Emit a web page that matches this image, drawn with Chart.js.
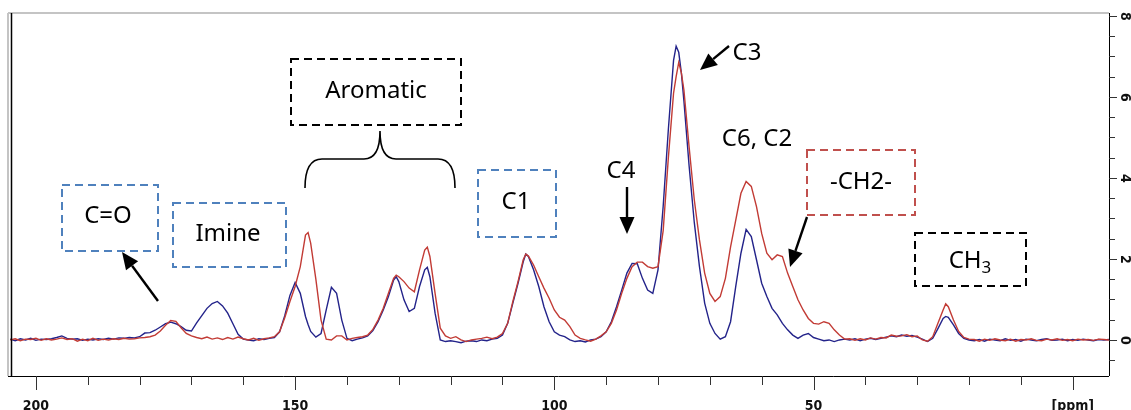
<!DOCTYPE html>
<html><head><meta charset="utf-8">
<script src="https://cdn.jsdelivr.net/npm/chart.js@4.4.1/dist/chart.umd.min.js"></script>
<style>html,body{margin:0;padding:0;background:#fff;overflow:hidden}canvas{display:block}</style>
</head><body>
<canvas id="c" width="1131" height="410"></canvas>
<script>
// chemical shift axis (ppm)
const ppm = [
205,204,203,202,201,200,199,198,197,196,195,194,193,192,191,190,189,188,187,186,185,184,183,182,181,180,
179,178,177,176,175,174,173,172,171,170,
169,168,167,166,165,164,163,162,161,160,
159,158,157,156,155,154,153,152,
151,150,149,148,147.5,147,146,145,144,143,142,141,140,
139,138,137,136,135,134,133,132,131,130.5,130,129,128,127,126,125,124.5,124,123,122,121,120,119,118,117,116,
115,114,113,112,111,110,109,108,107,106,105.5,105,104,103,102,101,100,99,98,97,96,95,94,93,92,91,
90,89,88,87,86,85,84,83,82,81,80,79,78,
77,76.5,76,75.5,75,74,73,72,71,70,69,68,
67,66,65,64,63,62,61,60,59,58,57,56,55,54,53,52,51,50,49,48,47,46,45,44,
43,42,41,40,39,38,37,36,35,34,33,32,31,30,29,28,27,26,25,24.5,24,23,22,21,20,
19,18,17,16,15,14,13,12,11,10,9,8,7,6,5,4,3,2,1,0,-1,-2,-3,-4,-5,-6,-7
];
// blue spectrum
const spectrumBlue = [
0.02,-0.02,0.03,0.00,0.04,-0.01,0.02,0.01,0.03,0.06,0.10,0.04,0.02,0.03,-0.01,0.02,0.00,0.03,0.01,0.04,0.02,0.05,0.04,0.06,0.05,0.08,
0.17,0.18,0.24,0.32,0.40,0.44,0.40,0.33,0.24,0.22,
0.42,0.60,0.78,0.90,0.95,0.84,0.66,0.40,0.14,0.02,
0.00,-0.02,0.03,0.01,0.04,0.06,0.20,0.60,
1.10,1.42,1.15,0.58,0.38,0.21,0.07,0.16,0.74,1.30,1.15,0.49,0.04,
-0.02,0.02,0.05,0.10,0.23,0.45,0.74,1.07,1.48,1.56,1.44,0.99,0.70,0.78,1.32,1.73,1.79,1.56,0.66,0.00,-0.04,-0.02,-0.04,-0.07,-0.03,-0.02,
-0.04,0.00,-0.02,0.02,0.04,0.12,0.41,0.91,1.40,1.93,2.12,2.06,1.73,1.32,0.82,0.45,0.20,0.12,0.08,0.00,-0.04,-0.02,-0.05,0.00,0.02,0.08,
0.20,0.45,0.82,1.23,1.65,1.89,1.88,1.52,1.23,1.15,1.73,3.30,5.20,
6.90,7.25,7.10,6.60,5.90,4.30,2.90,1.81,0.91,0.41,0.16,0.02,
0.08,0.45,1.32,2.14,2.73,2.55,1.98,1.40,1.07,0.78,0.62,0.41,0.25,0.12,0.04,0.12,0.16,0.06,0.02,-0.02,0.00,-0.04,0.00,0.02,
0.00,0.03,-0.02,0.02,0.04,0.01,0.04,0.07,0.10,0.08,0.12,0.09,0.11,0.07,0.02,-0.04,0.04,0.28,0.53,0.58,0.56,0.37,0.16,0.04,0.00,
-0.02,0.01,-0.03,0.02,0.00,-0.02,0.03,-0.01,0.01,-0.03,0.02,0.00,-0.02,0.01,0.03,-0.01,0.00,0.02,-0.02,0.01,-0.01,0.02,0.00,-0.02,0.01,0.00,0.01
];
// red spectrum
const spectrumRed = [
0.00,0.03,-0.02,0.02,0.01,0.04,-0.01,0.03,0.00,0.02,0.05,0.01,0.03,-0.03,0.02,-0.02,0.04,-0.01,0.02,0.00,0.03,0.01,0.04,0.02,0.03,0.05,
0.06,0.08,0.12,0.22,0.36,0.48,0.46,0.30,0.16,0.10,
0.06,0.03,0.07,0.02,0.05,0.01,0.06,0.02,0.07,0.03,
0.00,0.04,-0.01,0.03,0.05,0.08,0.20,0.55,
0.95,1.32,1.81,2.59,2.65,2.39,1.50,0.49,0.02,0.00,0.10,0.10,0.00,
0.04,0.06,0.08,0.12,0.26,0.49,0.78,1.15,1.52,1.60,1.56,1.44,1.28,1.19,1.73,2.22,2.29,2.06,1.15,0.29,0.10,0.04,0.08,0.00,-0.04,0.00,
0.02,0.04,0.07,0.03,0.07,0.16,0.41,0.95,1.44,1.98,2.12,2.07,1.85,1.56,1.28,1.03,0.74,0.56,0.49,0.33,0.12,0.04,0.00,-0.03,0.02,0.10,
0.20,0.41,0.74,1.15,1.52,1.81,1.92,1.92,1.81,1.77,1.81,2.70,4.50,
6.09,6.50,6.85,6.60,6.17,4.77,3.46,2.47,1.65,1.15,0.95,1.07,
1.52,2.30,2.96,3.62,3.91,3.79,3.29,2.63,2.14,1.98,2.10,2.06,1.65,1.32,0.99,0.74,0.53,0.41,0.39,0.45,0.41,0.25,0.12,0.02,
0.03,-0.01,0.03,0.00,0.05,0.02,0.06,0.05,0.12,0.09,0.10,0.13,0.08,0.10,0.00,-0.03,0.08,0.41,0.74,0.89,0.82,0.49,0.21,0.06,0.02,
0.01,-0.03,0.02,-0.01,0.03,0.00,-0.02,0.02,-0.03,0.01,0.00,0.03,-0.01,-0.02,0.02,0.00,0.03,-0.01,0.01,-0.02,0.02,0.00,0.01,-0.01,0.02,0.01,0.00
];
// axis ticks
const xTickValues = [200,190,180,170,160,150,140,130,120,110,100,90,80,70,60,50,40,30,20,10,0];
const xTickLabels = {200:'200',150:'150',100:'100',50:'50',0:'[ppm]'};
const yTickValues = [-0.5,0,0.5,1,1.5,2,2.5,3,3.5,4,4.5,5,5.5,6,6.5,7,7.5,8];
const yTickLabels = {0:'0',2:'2',4:'4',6:'6',8:'8'};

if (spectrumBlue.length !== ppm.length || spectrumRed.length !== ppm.length) console.warn('length mismatch', ppm.length, spectrumBlue.length, spectrumRed.length);

const AXIS_FAMILY = '"Liberation Sans Narrow", "DejaVu Sans Condensed", "Liberation Sans", sans-serif';
const AXIS_FONT = 'bold 14px ' + AXIS_FAMILY;
const ANN_FONT = '24px "Noto Sans", "Open Sans", sans-serif';
const SUB_FONT = '17px "Noto Sans", "Open Sans", sans-serif';

function dashedBox(ctx, x1, y1, x2, y2, color) {
  ctx.save(); ctx.strokeStyle = color; ctx.lineWidth = 2; ctx.setLineDash([8, 5]);
  ctx.strokeRect(x1, y1, x2 - x1, y2 - y1); ctx.restore();
}
function arrow(ctx, x1, y1, x2, y2) {
  const a = Math.atan2(y2 - y1, x2 - x1), L = 17, W = 7.5;
  const bx = x2 - L * Math.cos(a), by = y2 - L * Math.sin(a);
  ctx.save(); ctx.strokeStyle = '#000'; ctx.fillStyle = '#000'; ctx.lineWidth = 2.4;
  ctx.beginPath(); ctx.moveTo(x1, y1); ctx.lineTo(bx, by); ctx.stroke();
  ctx.beginPath(); ctx.moveTo(x2, y2);
  ctx.lineTo(bx + W * Math.sin(a), by - W * Math.cos(a));
  ctx.lineTo(bx - W * Math.sin(a), by + W * Math.cos(a));
  ctx.closePath(); ctx.fill(); ctx.restore();
}
function label(ctx, text, x, y) {
  ctx.save(); ctx.font = ANN_FONT; ctx.fillStyle = '#000'; ctx.textAlign = 'center'; ctx.textBaseline = 'middle';
  ctx.fillText(text, x, y); ctx.restore();
}

const decor = {
  id: 'decor',
  afterDraw(chart) {
    const ctx = chart.ctx, a = chart.chartArea, xs = chart.scales.x, ys = chart.scales.y;
    ctx.save();
    // frame
    ctx.strokeStyle = '#c4c4c4'; ctx.lineWidth = 2;
    ctx.beginPath(); ctx.moveTo(8, a.top); ctx.lineTo(a.right, a.top); ctx.stroke();
    ctx.beginPath(); ctx.moveTo(8, a.top); ctx.lineTo(8, a.bottom); ctx.stroke();
    ctx.strokeStyle = '#000'; ctx.lineWidth = 1.5;
    ctx.beginPath(); ctx.moveTo(a.left + 1.5, a.top); ctx.lineTo(a.left + 1.5, a.bottom); ctx.stroke();
    ctx.lineWidth = 1;
    ctx.beginPath(); ctx.moveTo(8, a.bottom + 0.5); ctx.lineTo(a.right, a.bottom + 0.5); ctx.stroke();
    ctx.beginPath(); ctx.moveTo(a.right + 0.5, a.top); ctx.lineTo(a.right + 0.5, a.bottom); ctx.stroke();
    // x ticks
    ctx.strokeStyle = '#333';
    xTickValues.forEach(v => {
      const px = Math.round(xs.getPixelForValue(v)) + 0.5;
      const len = (v % 50 === 0) ? 14 : 9;
      ctx.beginPath(); ctx.moveTo(px, a.bottom); ctx.lineTo(px, a.bottom + len); ctx.stroke();
    });
    // y ticks + labels
    yTickValues.forEach(v => {
      const py = Math.round(ys.getPixelForValue(v)) + 0.5;
      const len = (v % 2 === 0) ? 8 : 6;
      ctx.beginPath(); ctx.moveTo(a.right, py); ctx.lineTo(a.right + len, py); ctx.stroke();
      if (yTickLabels[v] !== undefined) {
        ctx.save(); ctx.translate(a.right + 16, py); ctx.rotate(Math.PI / 2);
        ctx.font = AXIS_FONT; ctx.fillStyle = '#111'; ctx.textAlign = 'center'; ctx.textBaseline = 'middle';
        ctx.fillText(yTickLabels[v], 0, 0); ctx.restore();
      }
    });
    // annotation boxes
    dashedBox(ctx, 62, 185, 158, 251, '#4f81bd');
    dashedBox(ctx, 173, 203, 286, 267, '#4f81bd');
    dashedBox(ctx, 291, 59, 461, 125, '#000');
    dashedBox(ctx, 478, 170, 556, 237, '#4f81bd');
    dashedBox(ctx, 807, 150, 915, 215, '#c0504d');
    dashedBox(ctx, 915, 233, 1026, 286, '#000');
    // labels
    label(ctx, 'C=O', 108, 216);
    label(ctx, 'Imine', 228, 234);
    label(ctx, 'Aromatic', 376, 91);
    label(ctx, 'C1', 516, 202);
    label(ctx, 'C4', 621, 171);
    label(ctx, 'C3', 747, 53);
    label(ctx, 'C6, C2', 757, 139);
    label(ctx, '-CH2-', 861, 182);
    // CH3 with subscript
    ctx.save(); ctx.font = ANN_FONT; ctx.fillStyle = '#000'; ctx.textBaseline = 'middle';
    const w1 = ctx.measureText('CH').width; ctx.font = SUB_FONT;
    const w2 = ctx.measureText('3').width; const sx = 970 - (w1 + w2) / 2;
    ctx.font = ANN_FONT; ctx.textAlign = 'left'; ctx.fillText('CH', sx, 261);
    ctx.font = SUB_FONT; ctx.fillText('3', sx + w1, 268); ctx.restore();
    // arrows
    arrow(ctx, 158, 301, 122, 252);
    arrow(ctx, 627, 187, 627, 234);
    arrow(ctx, 729, 46, 700, 70);
    arrow(ctx, 807, 217, 790, 267);
    // curly brace
    ctx.strokeStyle = '#000'; ctx.lineWidth = 1.6; ctx.setLineDash([]);
    ctx.beginPath();
    ctx.moveTo(305, 188);
    ctx.quadraticCurveTo(305, 159, 322, 159);
    ctx.lineTo(364, 159);
    ctx.quadraticCurveTo(380, 159, 380, 131);
    ctx.quadraticCurveTo(380, 159, 396, 159);
    ctx.lineTo(438, 159);
    ctx.quadraticCurveTo(455, 159, 455, 188);
    ctx.stroke();
    ctx.restore();
  }
};

new Chart(document.getElementById('c'), {
  type: 'line',
  data: {
    datasets: [
      { label: 'red', data: ppm.map((p, i) => ({ x: p, y: spectrumRed[i] })), borderColor: '#c23b35', borderWidth: 1.4, pointRadius: 0, tension: 0, fill: false },
      { label: 'blue', data: ppm.map((p, i) => ({ x: p, y: spectrumBlue[i] })), borderColor: '#23238a', borderWidth: 1.4, pointRadius: 0, tension: 0, fill: false }
    ]
  },
  options: {
    responsive: false, animation: false, devicePixelRatio: 1,
    layout: { padding: { left: 10, top: 13, right: 0, bottom: 0 } },
    plugins: { legend: { display: false }, tooltip: { enabled: false } },
    scales: {
      x: {
        type: 'linear', reverse: true, min: -7, max: 205, position: 'bottom',
        afterBuildTicks: s => { s.ticks = xTickValues.map(v => ({ value: v })); },
        afterFit: s => { s.height = 34; },
        grid: { display: false }, border: { display: false },
        ticks: { autoSkip: false, maxRotation: 0, minRotation: 0, padding: 14, color: '#111',
          font: { family: AXIS_FAMILY, size: 14, weight: 'bold' },
          callback: v => (xTickLabels[v] !== undefined ? xTickLabels[v] : '') }
      },
      y: {
        type: 'linear', position: 'right', min: -0.89, max: 8.07,
        afterBuildTicks: s => { s.ticks = yTickValues.map(v => ({ value: v })); },
        afterFit: s => { s.width = 22; },
        grid: { display: false }, border: { display: false },
        ticks: { display: false }
      }
    }
  },
  plugins: [decor]
});
</script>
</body></html>
